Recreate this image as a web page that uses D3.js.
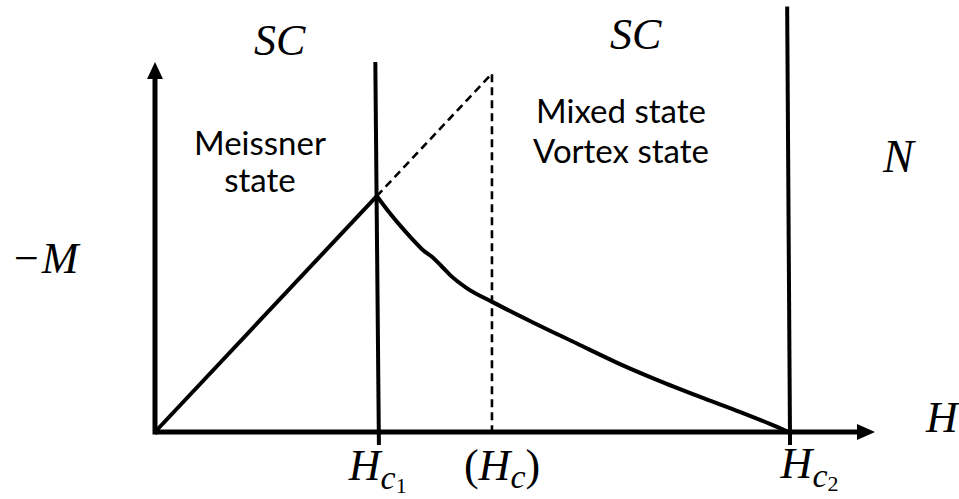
<!DOCTYPE html>
<html>
<head>
<meta charset="utf-8">
<script src="https://cdn.jsdelivr.net/npm/d3@7"></script>
<style>
  html, body { margin: 0; padding: 0; background: #fff; }
  svg { display: block; }
</style>
</head>
<body>
<svg id="chart" width="959" height="499"></svg>
<script>
// Magnetisation of a type-II superconductor, −M versus applied field H.
const fieldMarks = ["Hc1", "Hc", "Hc2"];
const fieldValues = [3.08, 4.68, 8.8];          // H at Hc1, thermodynamic Hc, Hc2
const meissnerSlope = 2.07;                     // −M = slope · H in the Meissner state
// Mixed-state branch from Hc1 down to Hc2
const mixedH = [3.08, 3.26, 3.40, 3.57, 3.72, 3.85, 3.99, 4.10, 4.33, 4.69, 5.25, 5.86, 6.42, 6.97, 7.57, 8.13, 8.54, 8.80];
const mixedM = [6.38, 5.92, 5.59, 5.22, 4.92, 4.73, 4.46, 4.24, 3.89, 3.51, 2.96, 2.39, 1.87, 1.41, 0.95, 0.54, 0.22, 0.00];
// Phase boundaries: [H bottom, M bottom, H top, M top]
const boundaryHc1 = [3.11, -0.35, 3.06, 10.0];
const boundaryHc2 = [8.82, -0.35, 8.78, 11.5];
const axisMax = [10, 10];                       // H and −M extents at the arrow tips

const svg = d3.select("#chart");
const x = d3.scaleLinear().domain([0, 10]).range([155, 875]);
const y = d3.scaleLinear().domain([0, 10]).range([432, 62]);

const black = "#000";

// Axes with arrow heads
svg.append("line")
  .attr("x1", x(0)).attr("y1", y(0))
  .attr("x2", x(axisMax[0]) - 14).attr("y2", y(0))
  .attr("stroke", black).attr("stroke-width", 5);
svg.append("path")
  .attr("d", `M${x(axisMax[0])},${y(0)} L${x(axisMax[0]) - 18},${y(0) - 8} L${x(axisMax[0]) - 18},${y(0) + 8} Z`)
  .attr("fill", black);
svg.append("line")
  .attr("x1", x(0)).attr("y1", y(0) + 2.5)
  .attr("x2", x(0)).attr("y2", y(axisMax[1]) + 14)
  .attr("stroke", black).attr("stroke-width", 5);
svg.append("path")
  .attr("d", `M${x(0)},${y(axisMax[1])} L${x(0) - 8},${y(axisMax[1]) + 17} L${x(0) + 8},${y(axisMax[1]) + 17} Z`)
  .attr("fill", black);

// Phase boundary lines
[boundaryHc1, boundaryHc2].forEach(b => {
  svg.append("line")
    .attr("x1", x(b[0])).attr("y1", y(b[1]))
    .attr("x2", x(b[2])).attr("y2", y(b[3]))
    .attr("stroke", black).attr("stroke-width", 4);
});

// Meissner line from the origin to Hc1
const hc1 = fieldValues[0], hc = fieldValues[1], hc2 = fieldValues[2];
svg.append("line")
  .attr("x1", x(0)).attr("y1", y(0))
  .attr("x2", x(hc1)).attr("y2", y(meissnerSlope * hc1))
  .attr("stroke", black).attr("stroke-width", 4);

// Dashed continuation of the ideal diamagnet up to Hc and down to the axis
svg.append("path")
  .attr("d", `M${x(hc1)},${y(meissnerSlope * hc1)} L${x(hc)},${y(meissnerSlope * hc)} L${x(hc)},${y(0)}`)
  .attr("fill", "none").attr("stroke", black)
  .attr("stroke-width", 2.6).attr("stroke-dasharray", "8,5");

// Mixed-state magnetisation curve
const pts = mixedH.map((h, i) => [h, mixedM[i]]);
svg.append("path")
  .datum(pts)
  .attr("d", d3.line().x(d => x(d[0])).y(d => y(d[1])).curve(d3.curveMonotoneX))
  .attr("fill", "none").attr("stroke", black).attr("stroke-width", 4)
  .attr("stroke-linejoin", "round");

// Region labels
const sans = "Lato, 'Open Sans', sans-serif";
const serif = "'Liberation Serif', 'DejaVu Serif', serif";
function sansText(tx, ty, s) {
  svg.append("text").attr("x", tx).attr("y", ty)
    .attr("font-family", sans).attr("font-size", 33).attr("fill", black)
    .attr("text-anchor", "middle").text(s);
}
sansText(260, 155, "Meissner");
sansText(260, 192, "state");
sansText(621, 123, "Mixed state");
sansText(621, 163, "Vortex state");

function mathText(tx, ty, size, parts) {
  const t = svg.append("text").attr("x", tx).attr("y", ty)
    .attr("font-family", serif).attr("font-size", size).attr("fill", black);
  parts.forEach(p => {
    const s = t.append("tspan").text(p.t);
    if (p.italic !== false) s.attr("font-style", "italic");
    if (p.dy) s.attr("dy", p.dy);
    if (p.size) s.attr("font-size", p.size);
    if (p.dx) s.attr("dx", p.dx);
  });
  return t;
}
mathText(254, 55, 44, [{ t: "SC" }]);
mathText(610, 49, 44, [{ t: "SC" }]);
mathText(883, 172, 46, [{ t: "N" }]);
mathText(14, 273, 44, [{ t: "−", italic: false }, { t: "M", dx: 3 }]);
mathText(926, 432, 44, [{ t: "H" }]);

// Field tick labels under the axis
mathText(x(hc1) - 28, 480, 44, [{ t: "H" }, { t: "c", size: 34, dy: 9 }, { t: "1", italic: false, size: 22, dy: 4 }]);
mathText(x(hc) - 28, 480, 44, [{ t: "(", italic: false }, { t: "H" }, { t: "c", size: 34, dy: 8 }, { t: ")", italic: false, size: 44, dy: -8 }]);
mathText(x(hc2) - 8, 478, 44, [{ t: "H" }, { t: "c", size: 34, dy: 9 }, { t: "2", italic: false, size: 22, dy: 4 }]);
</script>
</body>
</html>
